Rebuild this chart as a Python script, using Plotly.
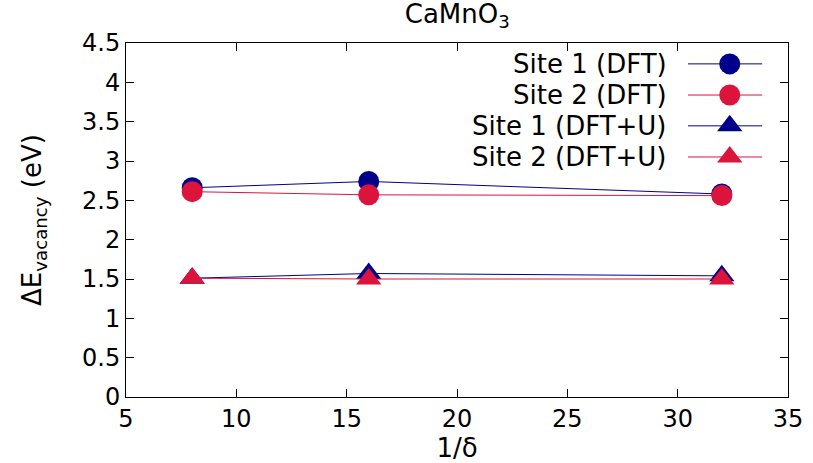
import plotly.graph_objects as go

# ---- data ----
inv_delta = [8, 16, 32]
site1_dft = [2.66, 2.74, 2.58]
site2_dft = [2.61, 2.57, 2.56]
site1_dftu = [1.51, 1.57, 1.54]
site2_dftu = [1.51, 1.50, 1.50]

series_names = ["Site 1 (DFT)", "Site 2 (DFT)", "Site 1 (DFT+U)", "Site 2 (DFT+U)"]
series_vals = [site1_dft, site2_dft, site1_dftu, site2_dftu]
series_colors = ["#00008B", "#DC143C", "#00008B", "#DC143C"]
series_symbols = ["circle", "circle", "triangle-up", "triangle-up"]

FONT = "DejaVu Sans"
FS = 24
LFS = 26

fig = go.Figure()
for name, vals, col, sym in zip(series_names, series_vals, series_colors, series_symbols):
    fig.add_trace(go.Scatter(
        x=inv_delta, y=vals, mode="lines+markers", name=name,
        line=dict(color=col, width=1),
        marker=dict(symbol=sym, size=21 if sym == "circle" else 22, color=col),
        showlegend=False,
    ))

# custom legend (text right, sample on right) drawn on an overlay axis
leg_rows = [0.941, 0.853, 0.766, 0.678]
for name, col, sym, yy in zip(series_names, series_colors, series_symbols, leg_rows):
    fig.add_trace(go.Scatter(
        x=[0.849, 0.961], y=[yy, yy], mode="lines", xaxis="x2", yaxis="y2",
        line=dict(color=col, width=1), showlegend=False, hoverinfo="skip"))
    fig.add_trace(go.Scatter(
        x=[0.912], y=[yy], mode="markers", xaxis="x2", yaxis="y2",
        marker=dict(symbol=sym, size=21 if sym == "circle" else 22, color=col),
        showlegend=False, hoverinfo="skip"))
    fig.add_annotation(x=0.820, y=yy, xref="x2", yref="y2", text=name,
                       showarrow=False, xanchor="right", yanchor="middle",
                       font=dict(family=FONT, size=LFS, color="black"))

axis_common = dict(showline=True, linecolor="black", linewidth=1, mirror="ticks",
                   ticks="inside", ticklen=8, tickcolor="black", showgrid=False,
                   zeroline=False, automargin=False,
                   tickfont=dict(family=FONT, size=FS, color="black"))

fig.update_layout(
    width=813, height=463,
    margin=dict(l=126, r=25, t=43, b=66),
    paper_bgcolor="white", plot_bgcolor="white",
    font=dict(family=FONT, size=FS, color="black"),
    title=dict(text="CaMnO<sub>3</sub>", x=0.5625, xanchor="center", y=0.99, yanchor="top",
               automargin=False,
               font=dict(family=FONT, size=LFS, color="black")),
    xaxis=dict(range=[5, 35], dtick=5, tick0=5,
               title=dict(text="1/δ", standoff=4, font=dict(family=FONT, size=LFS)),
               **axis_common),
    yaxis=dict(range=[0, 4.5], dtick=0.5, tick0=0,
               title=dict(text="ΔE<sub>vacancy</sub> (eV)", standoff=32,
                          font=dict(family=FONT, size=LFS)),
               **axis_common),
    xaxis2=dict(range=[0, 1], overlaying="x", visible=False, domain=[0, 1]),
    yaxis2=dict(range=[0, 1], overlaying="y", visible=False),
)

fig.write_html("out.html")
